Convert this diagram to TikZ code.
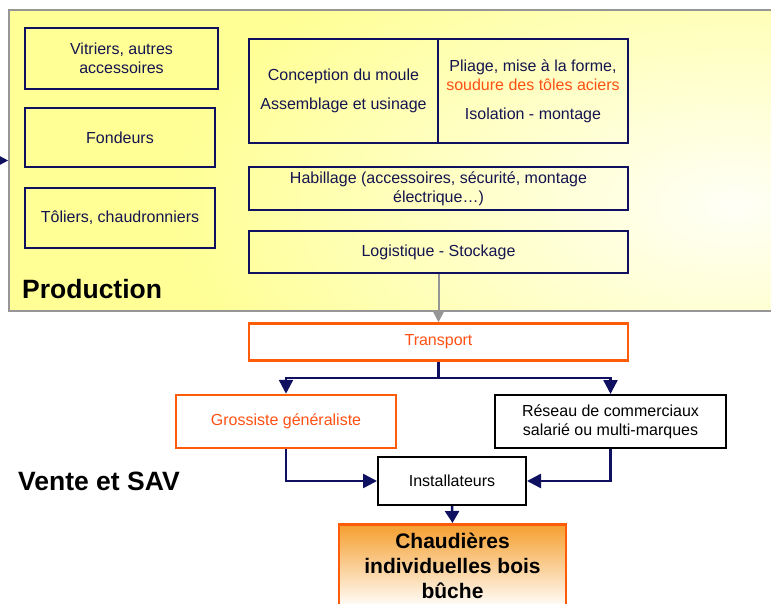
\documentclass[tikz,border=0pt]{standalone}
\usepackage{fontspec}
\setmainfont{Liberation Sans}
\usetikzlibrary{arrows.meta}
\definecolor{panelyellow}{RGB}{255,255,150}
\definecolor{panelline}{RGB}{150,150,150}
\definecolor{navy}{RGB}{16,16,96}
\definecolor{navytext}{RGB}{20,20,80}
\definecolor{orangeline}{RGB}{255,92,10}
\definecolor{orangetext}{RGB}{255,80,20}
\definecolor{chaudtop}{RGB}{245,158,45}
\tikzset{
	box/.style={draw=navy,line width=2pt,inner sep=0pt,align=center,text=navytext},
	orangebox/.style={draw=orangeline,line width=2.5pt,inner sep=0pt,align=center,text=orangetext},
	blackbox/.style={draw=black,line width=2pt,inner sep=0pt,align=center,text=black},
	flow/.style={draw=navy,line width=2.5pt,->},
	title/.style={font=\fontsize{26.5}{31}\selectfont\bfseries,inner sep=0pt}
}
\begin{document}
\begin{tikzpicture}[x=1pt,y=-1pt,>={Triangle[width=14pt,length=14pt]},line join=miter,font=\fontsize{16}{19}\selectfont]
	\useasboundingbox (0,0) rectangle (771,604);
	% production panel
	\node[draw=panelline,line width=1.5pt,fill=panelyellow,minimum width=800pt,minimum height=301pt,inner sep=0pt] (prod) at (409,160.5) {};
	\begin{scope}
		\clip (9,10) rectangle (800,311);
		\shade[inner color=white!92!panelyellow,outer color=panelyellow] (735,205) ellipse (560 and 300);
	\end{scope}
	\draw[draw=panelline,line width=1.5pt] (9,10) rectangle (810,311);
	\coordinate (feed) at (-30,160.5);
	\draw[flow] (feed) -- (prod.west);
	% suppliers
	\node[box,minimum width=193pt,minimum height=61pt] (vitr) at (121.5,58.5) {Vitriers, autres\\accessoires};
	\node[box,minimum width=190pt,minimum height=59pt] (fond) at (120,137.5) {Fondeurs};
	\node[box,minimum width=190pt,minimum height=60pt] (tol) at (120,218) {Tôliers, chaudronniers};
	% manufacturing
	\node[box,minimum width=189pt,minimum height=104pt] (conc) at (343.5,91) {Conception du moule\\[10pt]Assemblage et usinage};
	\node[box,minimum width=190pt,minimum height=104pt] (pli) at (533,91) {Pliage, mise à la forme,\\\textcolor{orangetext}{soudure des tôles aciers}\\[10pt]Isolation - montage};
	\node[box,minimum width=379pt,minimum height=43pt] (hab) at (438.5,188.5) {Habillage (accessoires, sécurité, montage\\électrique…)};
	\node[box,minimum width=379pt,minimum height=42pt] (logi) at (438.5,252) {Logistique - Stockage};
	\node[title,anchor=base west] (ptitle) at (22,298) {Production};
	% sales
	\node[orangebox,minimum width=379pt,minimum height=37pt] (trans) at (438.5,342) {Transport};
	\node[orangebox,minimum width=220pt,minimum height=53pt] (gros) at (286,421.5) {Grossiste généraliste};
	\node[blackbox,minimum width=231pt,minimum height=53pt] (res) at (610.5,421.5) {Réseau de commerciaux\\salarié ou multi-marques};
	\node[blackbox,minimum width=148pt,minimum height=48pt] (inst) at (452,481) {Installateurs};
	\node[draw=orangeline,line width=2.5pt,top color=chaudtop,bottom color=white,minimum width=227pt,minimum height=84pt,inner sep=0pt,align=center,anchor=north,font=\fontsize{21}{25}\selectfont\bfseries] (chaud) at (452.5,523) {Chaudières\\individuelles bois\\bûche};
	\node[title,anchor=base west] (vtitle) at (18,490) {Vente et SAV};
	% connectors
	\draw[draw=panelline,line width=2pt,-{Triangle[width=12pt,length=12pt]}] (logi.south) -- (trans.north);
	\coordinate (fork) at (438.5,378);
	\draw[draw=navy,line width=2.5pt] (trans.south) -- (fork);
	\draw[flow] (fork) -| (gros.north);
	\draw[flow] (fork) -| (res.north);
	\draw[flow] (gros.south) |- (inst.west);
	\draw[flow] (res.south) |- (inst.east);
	\draw[flow,-{Triangle[width=14pt,length=12pt]}] (inst.south) -- (chaud.north);
\end{tikzpicture}
\end{document}
